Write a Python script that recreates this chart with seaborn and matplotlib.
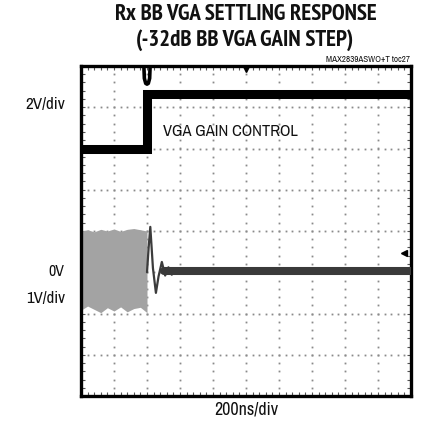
import numpy as np
import pandas as pd
import matplotlib
matplotlib.use("Agg")
import matplotlib.pyplot as plt
import seaborn as sns
from matplotlib import font_manager

# ---- data (screen divisions: x 0..10, y -4..4) ----
# VGA gain control trace (2V/div): low level, step, glitch at the top edge, high level
ctrl_x = [0.0, 2.0, 2.0, 10.0]
ctrl_y = [1.98, 1.98, 3.32, 3.32]
glitch_x = [1.9, 1.92, 1.96, 2.0, 2.04, 2.08, 2.1]
glitch_y = [4.1, 3.7, 3.58, 3.56, 3.58, 3.7, 4.1]

# Baseband output (1V/div, 0V at -1 div): envelope of the signal before the step
burst_x = [0.0, 0.2, 0.4, 0.6, 0.8, 1.0, 1.2, 1.4, 1.6, 1.8, 2.0]
burst_hi = [0.0, 0.03, -0.02, 0.04, 0.0, 0.05, -0.01, 0.04, 0.06, 0.03, 0.0]
burst_lo = [-1.92, -1.82, -1.9, -1.98, -1.86, -1.94, -1.84, -1.96, -1.88, -1.85, -1.98]

# transient after the gain step
ring_x = [2.0, 2.05, 2.1, 2.18, 2.27, 2.35, 2.45, 2.55, 2.65, 2.75, 2.85, 2.95, 3.05]
ring_y = [-1.0, -0.4, 0.1, -0.9, -1.5, -1.1, -0.75, -1.08, -0.88, -1.06, -0.9, -1.02, -0.97]

# settled output
settle_x = [2.5, 3.0, 10.0]
settle_y = [-0.97, -0.97, -0.97]

title_lines = ["Rx BB VGA SETTLING RESPONSE", "(-32dB BB VGA GAIN STEP)"]
part_label = "MAX2839ASWO+T toc27"
ch1_scale = "2V/div"
ch2_zero = "0V"
ch2_scale = "1V/div"
time_scale = "200ns/div"
ctrl_label = "VGA GAIN CONTROL"

sns.set_style("white")

# pick condensed faces: a regular one for labels, a bold one for the title
fonts = font_manager.fontManager.ttflist

def _w(f):
    w = f.weight
    if isinstance(w, str):
        w = font_manager.weight_dict.get(w, 400)
    return int(w)

def _width_penalty(f):
    n = f.name + " " + f.fname
    if "ExtraCondensed" in n or "UltraCondensed" in n or "Extra Condensed" in n:
        return 2
    if "SemiCondensed" in n or "Semi Condensed" in n:
        return 1
    return 0

narrow = [f for f in fonts if ("Narrow" in f.name or "Condensed" in f.name) and f.style == "normal"]
regular = sorted([f for f in narrow if _w(f) == 400], key=lambda f: (f.name,))
heavy = sorted([f for f in narrow if _w(f) >= 700],
               key=lambda f: ("Narrow" not in f.name, _width_penalty(f), abs(_w(f) - 700)))

label_font = font_manager.FontProperties(fname=regular[0].fname) if regular else \
    font_manager.FontProperties(family=["Roboto", "DejaVu Sans"])
if heavy:
    title_font = font_manager.FontProperties(fname=heavy[0].fname)
else:
    title_font = font_manager.FontProperties(family=["Roboto", "DejaVu Sans"], weight="bold")

fig = plt.figure(figsize=(4.22, 4.29), dpi=100)
ax = fig.add_axes([81 / 422, 33 / 429, 330 / 422, 330 / 429])
ax.set_xlim(0, 10)
ax.set_ylim(-4, 4)

# dotted graticule: dots on every minor step of each major line
dot_c = "#8a8a8a"
for k in range(1, 10):
    ys = np.arange(-4, 4.001, 0.2)
    ax.plot(np.full_like(ys, k), ys, ls="none", marker="s", ms=1.3, mec="none", mfc=dot_c, zorder=1)
for j in range(-3, 4):
    xs = np.arange(0, 10.001, 0.2)
    ax.plot(xs, np.full_like(xs, j), ls="none", marker="s", ms=1.3, mec="none", mfc=dot_c, zorder=1)

# minor ticks on the frame
ax.set_xticks(np.arange(0, 10.001, 0.2))
ax.set_yticks(np.arange(-4, 4.001, 0.2))
ax.tick_params(direction="in", length=3, width=0.8, color="#555555",
               top=True, right=True, bottom=True, left=True,
               labelbottom=False, labelleft=False)

# burst before the step
ax.fill_between(burst_x, burst_lo, burst_hi, color="#a3a3a3", lw=0, zorder=2)

df_ctrl = pd.DataFrame({"x": ctrl_x, "y": ctrl_y})
df_gl = pd.DataFrame({"x": glitch_x, "y": glitch_y})
df_ring = pd.DataFrame({"x": ring_x, "y": ring_y})
df_set = pd.DataFrame({"x": settle_x, "y": settle_y})

sns.lineplot(data=df_ctrl, x="x", y="y", sort=False, estimator=None, ax=ax,
             color="black", lw=6.5, zorder=4, solid_joinstyle="miter")
sns.lineplot(data=df_gl, x="x", y="y", sort=False, estimator=None, ax=ax,
             color="black", lw=2.6, zorder=4)
sns.lineplot(data=df_ring, x="x", y="y", sort=False, estimator=None, ax=ax,
             color="#3c3c3c", lw=1.6, zorder=3)
sns.lineplot(data=df_set, x="x", y="y", sort=False, estimator=None, ax=ax,
             color="#3a3a3a", lw=5.8, zorder=3)

# trigger and level markers
ax.plot([5.0], [3.93], marker="v", ms=5, color="black", clip_on=False, zorder=5)
ax.plot([9.8], [-0.53], marker="<", ms=5, color="black", clip_on=False, zorder=5)

ax.set_xlabel("")
ax.set_ylabel("")
for s in ax.spines.values():
    s.set_linewidth(2.4)
    s.set_color("black")
    s.set_visible(True)

# text placed in pixel coordinates, sized to a target width (capped by height)
def px(x, y):
    return x / 422, 1 - y / 429

renderer = fig.canvas.get_renderer()

def put(x, y, s, width, fp, ha="center", size=11, max_size=None):
    fp = fp.copy()
    fp.set_size(size)
    t = fig.text(*px(x, y), s, ha=ha, va="center", fontproperties=fp, color="#111111")
    w = t.get_window_extent(renderer).width
    new = size * width / w
    if max_size is not None:
        new = min(new, max_size)
    t.set_fontsize(new)
    return t

put(246, 15, title_lines[0], 272, title_font, max_size=16.5)
put(245, 40, title_lines[1], 231, title_font, max_size=16.5)
put(410, 60, part_label, 84, label_font, ha="right", size=6)
put(65, 104, ch1_scale, 40, label_font, ha="right")
put(64, 272, ch2_zero, 16, label_font, ha="right")
put(65, 298, ch2_scale, 39, label_font, ha="right")
put(246, 409, time_scale, 64, label_font)
put(163, 132, ctrl_label, 136, label_font, ha="left")

fig.savefig("out.png", dpi=100)
